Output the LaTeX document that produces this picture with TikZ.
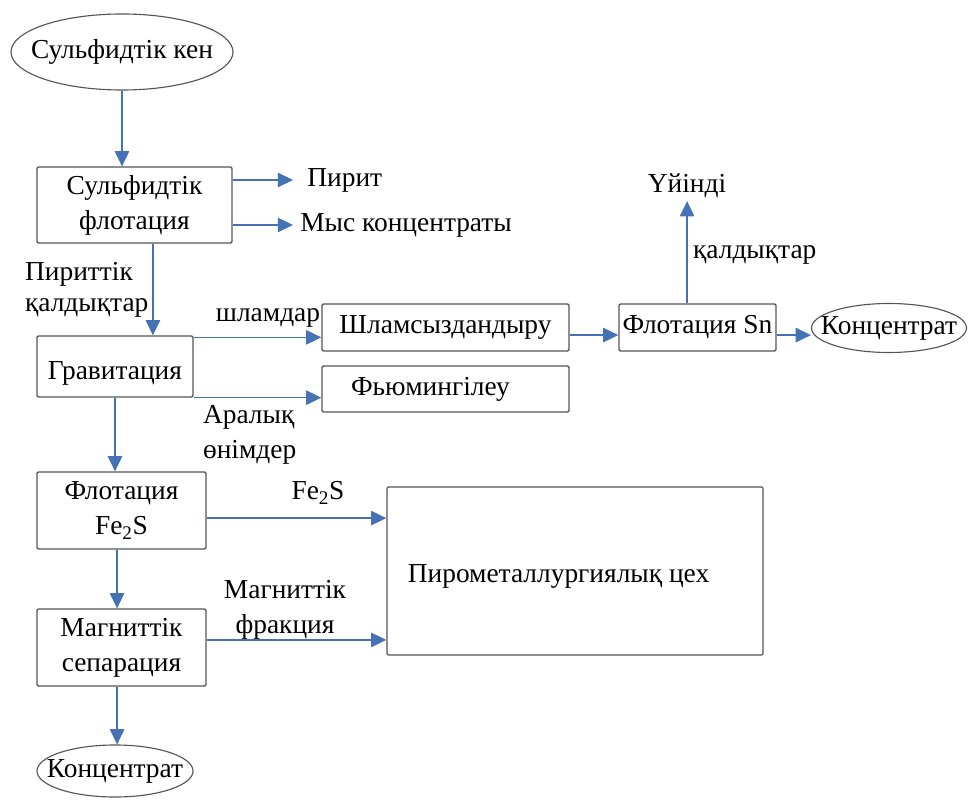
\documentclass[tikz,border=0pt]{standalone}
\usepackage{fontspec}
\setmainfont{Liberation Serif}
\newfontfamily\kzserif{Liberation Serif}
\usetikzlibrary{shapes.geometric, arrows.meta, positioning}
\definecolor{flowBlue}{RGB}{68, 114, 180}
\definecolor{boxGray}{RGB}{85, 85, 85}

\begin{document}
\begin{tikzpicture}[
  x=0.025cm, y=-0.025cm,
  box/.style={
    rectangle, rounded corners=1pt,
    draw=boxGray, line width=0.9pt,
    align=center, inner sep=0pt,
    font=\kzserif\fontsize{19.5}{25}\selectfont
  },
  oval/.style={
    ellipse, draw=boxGray, line width=0.8pt,
    inner xsep=-16pt, inner ysep=-3pt,
    font=\kzserif\fontsize{19.5}{25}\selectfont
  },
  lbl/.style={font=\kzserif\fontsize{19.5}{25}\selectfont, inner sep=2pt},
  flow/.style={-{Triangle[length=0.38cm, width=0.36cm]}, draw=flowBlue, line width=1pt}
]
\useasboundingbox (0,0) rectangle (968,800);

% left column
\node[oval, minimum width=5.55cm, minimum height=1.9cm] (ore) at (122,52) {Сульфидтік кен};
\node[box, minimum width=4.875cm, minimum height=1.9cm] (sulflot) at (134.5,205) {Сульфидтік\\флотация};
\node[box, minimum width=3.9cm, minimum height=1.525cm] (grav) at (115,366.5) {\raisebox{-5pt}[\height][\depth]{Гравитация}};
\node[box, minimum width=4.225cm, minimum height=1.925cm] (flfe) at (121.5,510.5) {Флотация\\Fe\textsubscript{2}S};
\node[box, minimum width=4.225cm, minimum height=1.925cm] (magsep) at (121.5,647.5) {Магниттік\\сепарация};
\node[oval, minimum width=3.9cm, minimum height=1.3cm] (concB) at (115,771) {Концентрат};

% right part
\node[box, minimum width=6.175cm, minimum height=1.175cm] (deslime) at (445.5,327.5) {Шламсыздандыру};
\node[box, minimum width=6.175cm, minimum height=1.15cm] (fuming) at (445.5,389) {Фьюмингілеу\hspace*{1.1em}};
\node[box, minimum width=9.4cm, minimum height=4.2cm] (pyro) at (575,571) {\raisebox{-4pt}[\height][\depth]{Пирометаллургиялық цех}\hspace*{1.2em}};
\node[box, minimum width=3.925cm, minimum height=1.175cm] (flsn) at (697.5,327.5) {Флотация Sn};
\node[oval, minimum width=3.875cm, minimum height=1.225cm] (concA) at (889,328) {Концентрат};

% products and labels
\node[lbl, anchor=west, inner xsep=10pt] (pirit) at (293,180) {Пирит};
\node[lbl, anchor=west, inner xsep=5pt] (mys) at (293,225) {Мыс концентраты};
\node[lbl, anchor=west, align=left, font=\kzserif\fontsize{19.5}{22}\selectfont] (pyrres) at (22,290) {Пириттік\\қалдықтар};
\node[lbl] (slimes) at (268,318) {шламдар};
\node[lbl, anchor=north west, align=left] (middl) at (200,402) {Аралық\\өнімдер};
\node[lbl] (heap) at (687,186) {Үйінді};
\node[lbl, anchor=west] (tails) at (690,255) {қалдықтар};
\node[lbl] (fes) at (318,493) {Fe\textsubscript{2}S};
\node[lbl, align=center] (magfr) at (285,610) {Магниттік\\фракция};

% connectors
\coordinate (sfout) at ([xshift=0.46cm]sulflot.south);
\coordinate (gravtop) at ([yshift=-0.05cm]grav.north east);
\coordinate (dsout) at ([yshift=-0.19cm]deslime.east);
\coordinate (snout) at ([yshift=-0.19cm]flsn.east);
\coordinate (snup) at ([xshift=-0.26cm]flsn.north);
\coordinate (feout) at ([yshift=-0.19cm]flfe.east);
\coordinate (fedown) at ([xshift=-0.11cm]flfe.south);
\coordinate (magout) at ([yshift=0.19cm]magsep.east);
\coordinate (magdown) at ([xshift=-0.11cm]magsep.south);

\draw[flow] (ore) -- (ore |- sulflot.north);
\draw[flow] (sulflot.east |- pirit.west) -- (pirit.west);
\draw[flow] (sulflot.east |- mys.west) -- (mys.west);
\draw[flow] (sfout) -- (sfout |- grav.north);
\draw[flow] (gravtop) -- (gravtop -| deslime.west);
\draw[flow] (grav.south east) -- (grav.south east -| fuming.west);
\draw[flow] (grav.south) -- (grav.south |- flfe.north);
\draw[flow] (dsout) -- (dsout -| flsn.west);
\draw[flow] (snout) -- (snout -| concA.west);
\draw[flow] (snup) -- (snup |- heap.south);
\draw[flow] (feout) -- (feout -| pyro.west);
\draw[flow] (fedown) -- (fedown |- magsep.north);
\draw[flow] (magout) -- (magout -| pyro.west);
\draw[flow] (magdown) -- (magdown |- concB.north);
\end{tikzpicture}
\end{document}
